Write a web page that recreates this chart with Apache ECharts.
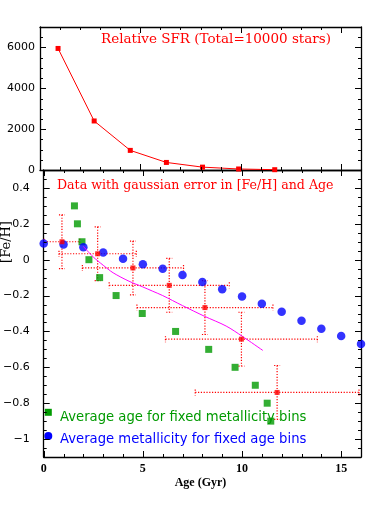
<!DOCTYPE html>
<html>
<head>
<meta charset="utf-8">
<script src="https://cdn.jsdelivr.net/npm/echarts@6/dist/echarts.min.js"></script>
<style>
  html, body { margin: 0; padding: 0; background: #fff; }
  #chart { width: 382px; height: 509px; }
</style>
</head>
<body>
<div id="chart"></div>
<script>
// star formation rate per age bin (top panel)
const sfrAge = [0.9, 2.7, 4.5, 6.3, 8.1, 9.9, 11.7]
const sfrCount = [5950, 2400, 960, 370, 140, 50, 15]

// example stars with gaussian errors (bottom panel)
const errAge = [0.92, 2.72, 4.5, 6.33, 8.13, 9.97, 11.77]
const errFeh = [0.1, 0.033, -0.046, -0.143, -0.267, -0.443, -0.74]
const errAgeSigma = [0.9, 1.95, 2.55, 3.03, 3.43, 3.83, 4.13]
const errFehSigma = [0.15, 0.15, 0.15, 0.15, 0.15, 0.15, 0.15]

// average age for fixed metallicity bins
const metBinFeh = [0.3, 0.2, 0.1, 0, -0.1, -0.2, -0.3, -0.4, -0.5, -0.6, -0.7, -0.8, -0.9]
const metBinAge = [1.55, 1.7, 1.93, 2.28, 2.82, 3.65, 4.97, 6.65, 8.32, 9.65, 10.67, 11.27, 11.45]

// average metallicity for fixed age bins
const ageBinAge = [0, 1, 2, 3, 4, 5, 6, 7, 8, 9, 10, 11, 12, 13, 14, 15, 16]
const ageBinFeh = [0.09, 0.085, 0.07, 0.04, 0.005, -0.025, -0.05, -0.085, -0.125,
  -0.165, -0.205, -0.245, -0.29, -0.34, -0.385, -0.425, -0.47]

// input age-metallicity relation
const amrAge = [2.0, 2.5, 3.0, 3.5, 4.3, 5.0, 5.5, 6.0, 7.0, 8.1, 9.2, 10.0, 11.05]
const amrFeh = [0.074, 0.015, -0.031, -0.073, -0.12, -0.152, -0.176, -0.2, -0.256,
  -0.315, -0.37, -0.426, -0.506]

// tick positions
const ageTicks = [0, 5, 10, 15]
const sfrTicks = [0, 2000, 4000, 6000]
const fehTicks = [-1, -0.8, -0.6, -0.4, -0.2, 0, 0.2, 0.4]

const AGE_RANGE = [0, 16]
const SFR_RANGE = [0, 7000]
const FEH_RANGE = [-1.1, 0.5]

const RED = '#ff0000'
const GREEN = '#009a00'
const BLUE = '#0000ff'

// one side of the frame: axis line, optional tick labels
function side(grid, pos, range, majors, label) {
  return {
    type: 'value', gridIndex: grid, position: pos,
    min: range[0], max: range[1],
    splitLine: { show: false },
    axisLine: { show: true, onZero: false, lineStyle: { color: '#000', width: 1.3 } },
    axisTick: { show: false },
    axisLabel: label ? Object.assign({ customValues: majors }, label) : { show: false },
  }
}

const numFmt = v => (v < 0 ? '\u2212' + String(-v) : String(v))

const xAxes = [
  side(0, 'bottom', AGE_RANGE, ageTicks),
  side(0, 'top', AGE_RANGE, ageTicks),
  side(1, 'bottom', AGE_RANGE, ageTicks, {
    show: true, margin: 6, color: '#000', formatter: numFmt,
    fontFamily: 'Liberation Serif', fontSize: 12, fontWeight: 'bold',
  }),
  side(1, 'top', AGE_RANGE, ageTicks),
]
const yAxes = [
  side(0, 'left', SFR_RANGE, sfrTicks, {
    show: true, margin: 5, color: '#000', formatter: numFmt,
    fontFamily: 'DejaVu Sans', fontSize: 11,
  }),
  side(0, 'right', SFR_RANGE, sfrTicks),
  side(1, 'left', FEH_RANGE, fehTicks, {
    show: true, margin: 14, color: '#000', formatter: numFmt,
    fontFamily: 'DejaVu Sans', fontSize: 11,
  }),
  side(1, 'right', FEH_RANGE, fehTicks),
]

// [value, tick length] pairs, long ticks at the labelled values
function tickList(range, step, majors) {
  const out = []
  const n = Math.round((range[1] - range[0]) / step)
  for (let i = 0; i <= n; i++) {
    const v = +(range[0] + i * step).toFixed(6)
    out.push([v, majors.some(m => Math.abs(m - v) < 1e-9) ? 6 : 3])
  }
  return out
}

// inward ticks on both opposite sides of a panel
function ticks(dir, other) {
  return function (params, api) {
    const v = api.value(0), len = api.value(1)
    const style = { stroke: '#000', lineWidth: 1 }
    let a, b
    if (dir === 'x') {
      a = api.coord([v, other[0]]); b = api.coord([v, other[1]])
      const x = Math.round(a[0]) + 0.5
      return { type: 'group', children: [
        { type: 'line', shape: { x1: x, y1: a[1], x2: x, y2: a[1] - len }, style },
        { type: 'line', shape: { x1: x, y1: b[1], x2: x, y2: b[1] + len }, style },
      ] }
    }
    a = api.coord([other[0], v]); b = api.coord([other[1], v])
    const y = Math.round(a[1]) + 0.5
    return { type: 'group', children: [
      { type: 'line', shape: { x1: a[0], y1: y, x2: a[0] + len, y2: y }, style },
      { type: 'line', shape: { x1: b[0], y1: y, x2: b[0] - len, y2: y }, style },
    ] }
  }
}

const tickSeries = (xi, dir, other, list) => ({
  type: 'custom', xAxisIndex: xi, yAxisIndex: xi, clip: false, z: 5,
  silent: true, renderItem: ticks(dir, other), data: list,
})

const zip = (a, b) => a.map((v, i) => [v, b[i]])

function errorBar(params, api) {
  const a = api.value(0), f = api.value(1), da = api.value(2), df = api.value(3)
  const l = api.coord([a - da, f]), r = api.coord([a + da, f])
  const t = api.coord([a, f + df]), b = api.coord([a, f - df])
  const c = 3
  const style = { stroke: RED, lineWidth: 1.2, lineDash: [1.2, 1.6], fill: null }
  const seg = (x1, y1, x2, y2) => ({ type: 'line', shape: { x1, y1, x2, y2 }, style })
  return {
    type: 'group',
    children: [
      seg(l[0], l[1], r[0], r[1]),
      seg(t[0], t[1], b[0], b[1]),
      seg(l[0], l[1] - c, l[0], l[1] + c),
      seg(r[0], r[1] - c, r[0], r[1] + c),
      seg(t[0] - c, t[1], t[0] + c, t[1]),
      seg(b[0] - c, b[1], b[0] + c, b[1]),
    ],
  }
}

const chart = echarts.init(document.getElementById('chart'))

chart.setOption({
  animation: false,
  grid: [
    { left: 40, right: 21, top: 27, height: 143 },
    { left: 40, right: 21, top: 170, height: 287 },
  ],
  xAxis: xAxes,
  yAxis: yAxes,
  series: [
    tickSeries(0, 'x', SFR_RANGE, tickList(AGE_RANGE, 1, ageTicks)),
    tickSeries(0, 'y', AGE_RANGE, tickList(SFR_RANGE, 500, sfrTicks)),
    tickSeries(2, 'x', FEH_RANGE, tickList(AGE_RANGE, 1, ageTicks)),
    tickSeries(2, 'y', AGE_RANGE, tickList(FEH_RANGE, 0.05, fehTicks)),
    {
      name: 'SFR', type: 'line', xAxisIndex: 0, yAxisIndex: 0,
      data: zip(sfrAge, sfrCount),
      symbol: 'rect', symbolSize: 5,
      lineStyle: { color: RED, width: 1 }, itemStyle: { color: RED },
    },
    {
      name: 'errors', type: 'custom', xAxisIndex: 2, yAxisIndex: 2,
      renderItem: errorBar, clip: true, z: 1,
      data: errAge.map((a, i) => [a, errFeh[i], errAgeSigma[i], errFehSigma[i]]),
    },
    {
      name: 'Average age for fixed metallicity bins', type: 'scatter',
      xAxisIndex: 2, yAxisIndex: 2, z: 2,
      data: zip(metBinAge, metBinFeh), symbol: 'rect', symbolSize: 7,
      itemStyle: { color: GREEN },
    },
    {
      name: 'Average metallicity for fixed age bins', type: 'scatter',
      xAxisIndex: 2, yAxisIndex: 2, z: 2,
      data: zip(ageBinAge, ageBinFeh), symbol: 'circle', symbolSize: 8.5,
      itemStyle: { color: BLUE },
    },
    {
      name: 'error centres', type: 'scatter', xAxisIndex: 2, yAxisIndex: 2, z: 3,
      data: zip(errAge, errFeh), symbol: 'rect', symbolSize: 5,
      itemStyle: { color: RED },
    },
    {
      name: 'AMR', type: 'line', xAxisIndex: 2, yAxisIndex: 2, z: 3,
      data: zip(amrAge, amrFeh), smooth: 0.3, showSymbol: false,
      lineStyle: { color: '#ff00ff', width: 1 },
    },
  ],
  graphic: [
    { type: 'text', x: 101, y: 39.5, style: { text: 'Relative SFR (Total=10000 stars)',
      fill: RED, font: '13.5px "DejaVu Serif"', verticalAlign: 'middle' } },
    { type: 'text', x: 57, y: 185.3, style: { text: 'Data with gaussian error in [Fe/H] and Age',
      fill: RED, font: '12.6px "DejaVu Serif"', verticalAlign: 'middle' } },
    { type: 'text', x: 7, y: 242, rotation: Math.PI / 2, style: { text: '[Fe/H]',
      fill: '#000', font: '13px "DejaVu Serif"', align: 'center', verticalAlign: 'middle' } },
    { type: 'text', x: 200.5, y: 483, style: { text: 'Age (Gyr)',
      fill: '#000', font: 'bold 12px "Liberation Serif"', align: 'center', verticalAlign: 'middle' } },
    { type: 'rect', shape: { x: 44.8, y: 408.8, width: 7, height: 7 }, style: { fill: GREEN } },
    { type: 'text', x: 60, y: 417.8, style: { text: 'Average age for fixed metallicity bins',
      fill: GREEN, font: '13.2px "DejaVu Sans"', verticalAlign: 'middle' } },
    { type: 'circle', shape: { cx: 48.3, cy: 436, r: 4 }, style: { fill: BLUE } },
    { type: 'text', x: 60, y: 439.2, style: { text: 'Average metallicity for fixed age bins',
      fill: BLUE, font: '13.2px "DejaVu Sans"', verticalAlign: 'middle' } },
  ],
})
</script>
</body>
</html>
